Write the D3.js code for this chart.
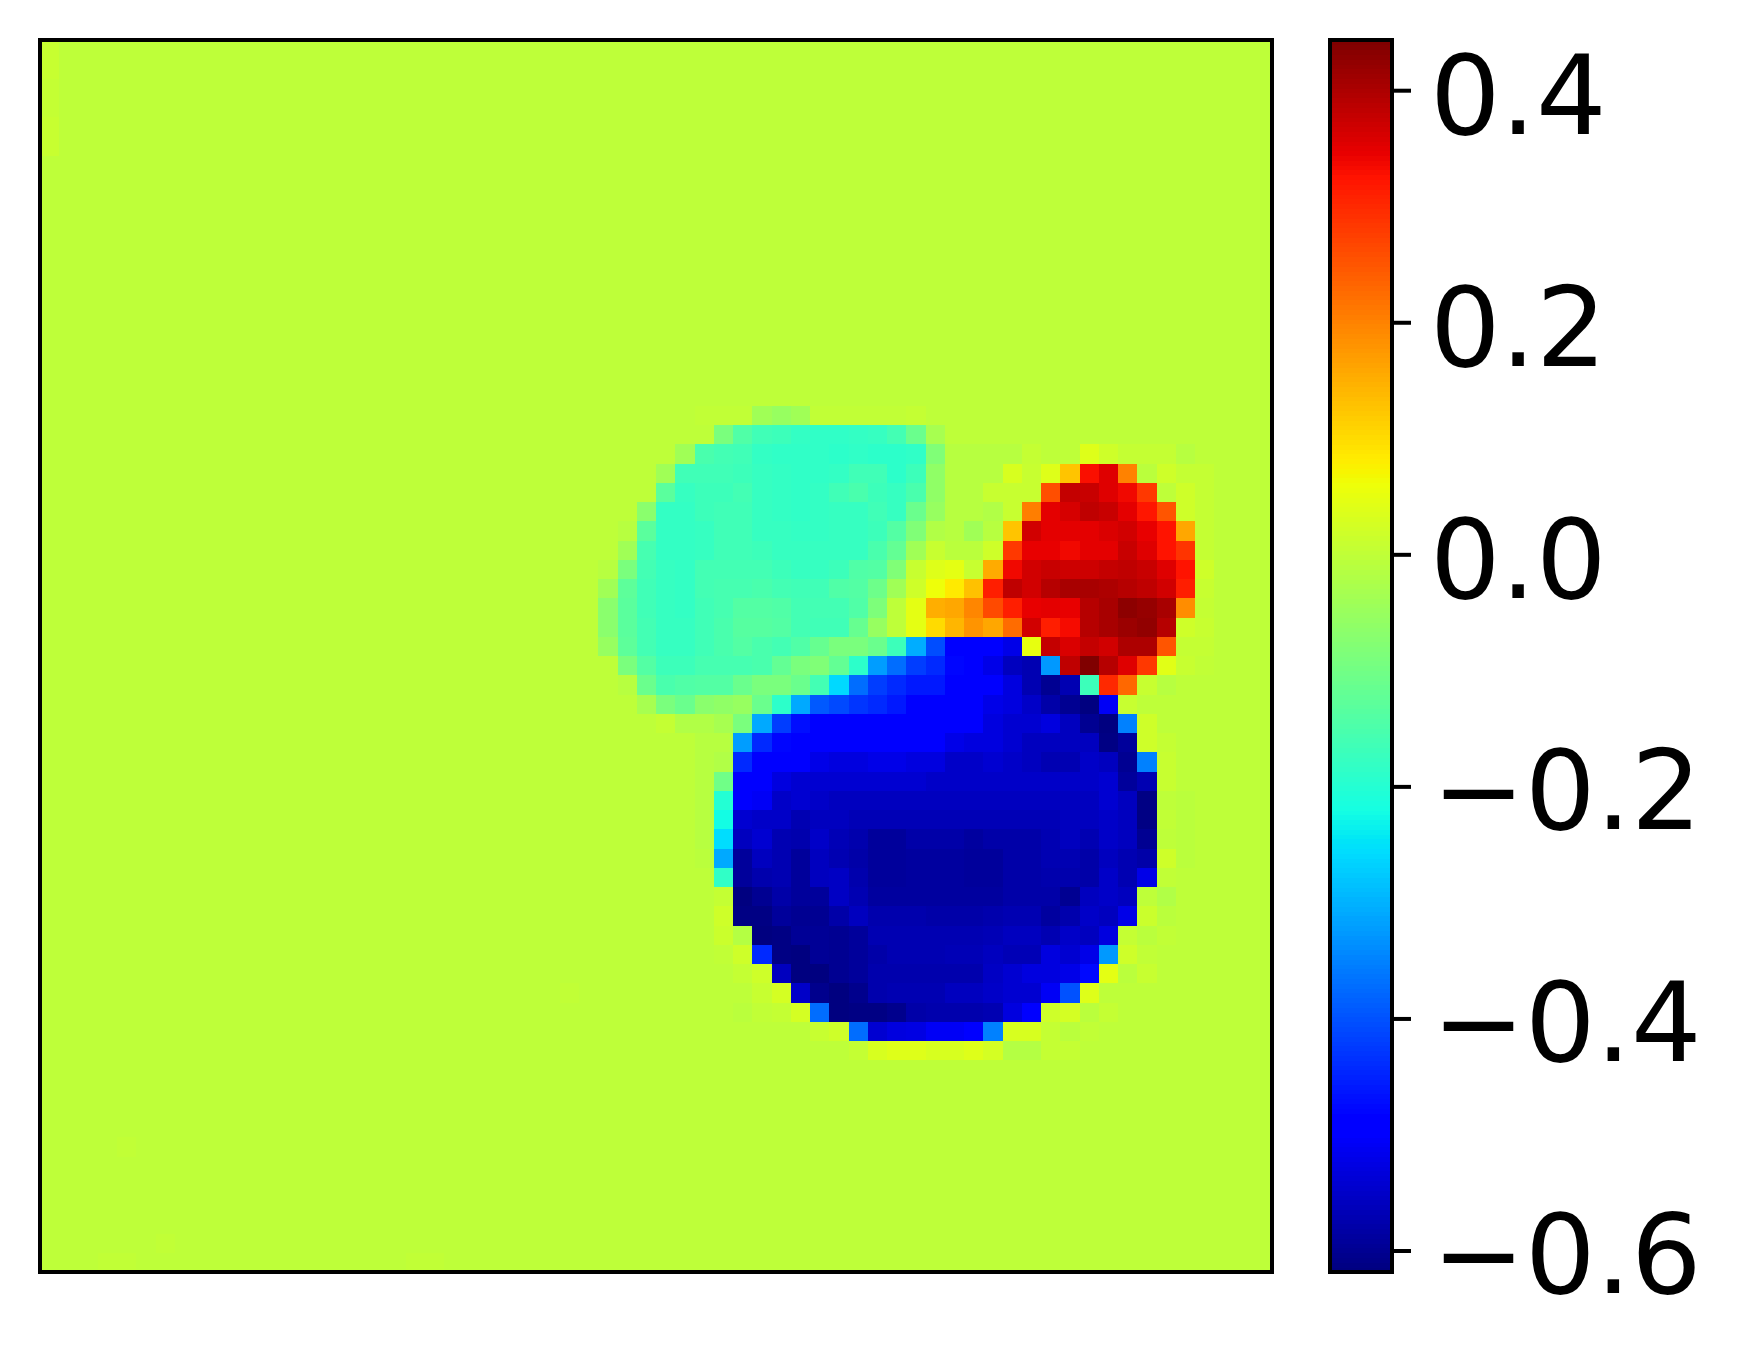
<!DOCTYPE html>
<html>
<head>
<meta charset="utf-8">
<script src="https://cdn.jsdelivr.net/npm/d3@7"></script>
<style>
body { margin: 0; background: #fff; }
</style>
</head>
<body>
<div id="chart"></div>
<script>
// field is 64x64, everything not listed below sits at the background value
var gridSize = 64;
var background = -0.004;
var barTicks = [0.4, 0.2, 0, -0.2, -0.4, -0.6];
var vmin = -0.6181, vmax = 0.4437;

// few slightly warmer background cells
var warmRows = [0, 1, 2, 3, 4, 5, 57, 49, 62, 63, 63, 63, 63];
var warmCols = [0, 0, 0, 0, 0, 0, 4, 27, 6, 3, 4, 19, 20];
var warmValues = [.012, .012, .008, .008, .012, .012, .002, .002, .002, .002, .002, .002, .002];

// first column of each listed row, rows start at firstRow
var firstRow = 19;
var firstCols = [34, 35, 33, 32, 31, 31, 30, 30, 29, 29, 29, 29, 29, 30, 30, 31, 32, 34, 34, 34, 34, 34, 34, 34, 34, 35, 35, 35, 35, 36, 37, 36, 40, 42];

var rowValues = [
  [0,0,0,-.04,-.05,-.04,0,0,0,0,0,.005],
  [-.09,-.145,-.165,-.17,-.18,-.185,-.185,-.18,-.175,-.16,-.11,-.03],
  [-.04,-.15,-.16,-.165,-.18,-.185,-.185,-.185,-.19,-.185,-.19,-.19,-.185,-.08,-.012,-.012,-.012,-.012,.005,-.004,-.004,.038,.02,.005,.005,.005,-.012],
  [-.04,-.165,-.165,-.165,-.17,-.175,-.18,-.185,-.185,-.18,-.165,-.165,-.19,-.17,-.06,-.012,-.012,-.012,.03,.012,.038,.125,.33,.355,.2,-.008,.02,.005,.005],
  [-.004,-.13,-.175,-.17,-.17,-.16,-.175,-.18,-.185,-.18,-.165,-.15,-.17,-.175,-.15,-.06,-.012,-.012,.012,.012,.012,.26,.378,.375,.355,.34,.285,-.004,.02,.005],
  [-.07,-.18,-.18,-.17,-.165,-.165,-.175,-.18,-.185,-.18,-.175,-.175,-.165,-.175,-.11,-.05,-.012,-.012,-.02,.012,.205,.35,.362,.385,.375,.35,.32,.25,.02,.005],
  [-.012,-.13,-.18,-.18,-.175,-.165,-.165,-.175,-.175,-.18,-.18,-.175,-.175,-.17,-.14,-.08,-.02,-.012,-.04,-.012,.125,.368,.35,.35,.352,.36,.365,.345,.325,.16,.005],
  [-.04,-.155,-.18,-.18,-.175,-.165,-.165,-.17,-.175,-.175,-.175,-.175,-.175,-.15,-.12,-.04,.012,-.008,-.008,.02,.285,.347,.347,.338,.35,.35,.375,.355,.325,.29,.005],
  [-.012,-.09,-.16,-.175,-.18,-.16,-.16,-.16,-.16,-.17,-.175,-.175,-.17,-.145,-.14,-.08,.012,.038,.047,.012,.155,.34,.368,.375,.37,.37,.38,.385,.375,.355,.325,.02],
  [-.04,-.125,-.165,-.175,-.18,-.16,-.155,-.155,-.15,-.16,-.165,-.165,-.145,-.14,-.105,-.04,.02,.06,.085,.13,.312,.385,.365,.393,.405,.405,.4,.39,.385,.365,.315,.012],
  [-.07,-.13,-.165,-.175,-.18,-.165,-.155,-.14,-.14,-.145,-.16,-.16,-.16,-.145,-.085,-.004,.047,.15,.16,.195,.265,.315,.345,.35,.345,.39,.405,.43,.42,.405,.19,.005],
  [-.07,-.13,-.16,-.175,-.175,-.165,-.15,-.135,-.135,-.14,-.16,-.165,-.165,-.115,-.05,-.004,.047,.1,.145,.18,.16,.225,.365,.315,.335,.39,.405,.415,.423,.39,.02,.012],
  [-.05,-.125,-.16,-.175,-.175,-.165,-.15,-.14,-.15,-.16,-.145,-.115,-.09,-.09,-.11,-.17,-.305,-.405,-.49,-.49,-.49,-.52,.052,.38,.36,.378,.365,.4,.402,.25,.005,.005],
  [-.09,-.14,-.17,-.17,-.155,-.155,-.155,-.15,-.12,-.09,-.08,-.12,-.19,-.32,-.37,-.42,-.44,-.48,-.5,-.52,-.56,-.57,-.325,.385,.443,.393,.355,.285,.042,.012,0],
  [-.012,-.11,-.15,-.145,-.14,-.14,-.11,-.09,-.09,-.11,-.16,-.26,-.37,-.42,-.44,-.46,-.46,-.49,-.49,-.5,-.53,-.57,-.6,-.57,-.17,.3,.23,.012,-.012],
  [-.03,-.09,-.11,-.07,-.06,-.05,-.11,-.19,-.31,-.39,-.41,-.43,-.44,-.46,-.49,-.49,-.49,-.5,-.52,-.53,-.55,-.58,-.6,-.615,-.51,.012],
  [.005,-.02,-.02,-.03,-.09,-.31,-.42,-.47,-.49,-.49,-.49,-.49,-.49,-.49,-.49,-.49,-.5,-.53,-.54,-.54,-.53,-.56,-.6,-.615,-.35,.02],
  [-.012,-.012,-.32,-.44,-.48,-.49,-.49,-.49,-.49,-.49,-.49,-.49,-.5,-.52,-.53,-.53,-.54,-.56,-.56,-.56,-.56,-.61,-.59,.02,.005],
  [-.012,-.02,-.44,-.49,-.49,-.5,-.52,-.53,-.53,-.52,-.52,-.53,-.53,-.55,-.55,-.54,-.55,-.56,-.57,-.57,-.55,-.56,-.6,-.35,.01],
  [-.012,-.1,-.49,-.5,-.53,-.54,-.54,-.54,-.54,-.54,-.54,-.54,-.55,-.55,-.55,-.55,-.55,-.55,-.55,-.55,-.55,-.54,-.59,-.57,.01],
  [-.012,-.2,-.5,-.51,-.55,-.54,-.55,-.56,-.56,-.56,-.56,-.56,-.56,-.56,-.56,-.56,-.56,-.56,-.56,-.56,-.56,-.54,-.56,-.61,-.004,-.008],
  [-.012,-.22,-.54,-.55,-.55,-.57,-.56,-.56,-.565,-.565,-.565,-.565,-.565,-.565,-.565,-.565,-.565,-.565,-.565,-.56,-.56,-.55,-.56,-.61,0,-.008],
  [-.012,-.255,-.56,-.54,-.57,-.575,-.55,-.565,-.575,-.59,-.59,-.58,-.58,-.58,-.585,-.58,-.58,-.58,-.57,-.56,-.57,-.55,-.56,-.6,-.004,-.008],
  [-.008,-.31,-.59,-.56,-.57,-.59,-.56,-.57,-.58,-.59,-.59,-.585,-.585,-.585,-.59,-.59,-.58,-.58,-.57,-.57,-.58,-.56,-.57,-.58,.02,-.008],
  [-.004,-.185,-.59,-.575,-.57,-.59,-.56,-.555,-.575,-.59,-.59,-.585,-.585,-.585,-.59,-.59,-.58,-.58,-.575,-.575,-.58,-.55,-.57,-.52,0],
  [.005,-.615,-.6,-.58,-.59,-.59,-.555,-.57,-.585,-.585,-.585,-.585,-.585,-.585,-.585,-.58,-.58,-.58,-.6,-.56,-.55,-.56,-.004,-.02],
  [.02,-.61,-.61,-.59,-.6,-.6,-.58,-.56,-.575,-.575,-.575,-.58,-.58,-.58,-.575,-.57,-.57,-.585,-.575,-.55,-.56,-.52,.015,-.008],
  [.015,-.015,-.618,-.61,-.595,-.595,-.6,-.59,-.57,-.57,-.57,-.57,-.57,-.57,-.565,-.56,-.56,-.57,-.55,-.56,-.53,.005,-.008,0],
  [.002,.02,-.44,-.61,-.615,-.595,-.6,-.59,-.58,-.57,-.57,-.57,-.565,-.565,-.56,-.565,-.565,-.53,-.54,-.52,-.325,.02,0],
  [.005,.02,-.56,-.615,-.615,-.6,-.59,-.575,-.575,-.575,-.575,-.575,-.575,-.555,-.54,-.53,-.53,-.52,-.475,.047,-.008,.012],
  [.012,.025,-.55,-.605,-.615,-.605,-.575,-.57,-.57,-.57,-.56,-.56,-.55,-.54,-.54,-.51,-.4,.038],
  [-.008,.002,.005,.025,-.37,-.615,-.61,-.61,-.605,-.58,-.575,-.575,-.575,-.57,-.53,-.49,.02,.025,-.008,.005],
  [.012,.02,-.37,-.54,-.53,-.525,-.51,-.51,-.5,-.35,.03,.03,.005,-.008,0],
  [.005,.03,.038,.038,.03,.03,.038,.025,-.015,-.015,.005,.005]
];

// spread the rows out into one list of cells
var cells = [];
for (var r = 0; r < gridSize; r++) {
  for (var c = 0; c < gridSize; c++) {
    var row = rowValues[r - firstRow];
    var v = background;
    if (row != null) {
      var k = c - firstCols[r - firstRow];
      if (k >= 0 && k < row.length) v = row[k];
    }
    cells.push({row: r, col: c, value: v});
  }
}
for (var w = 0; w < warmRows.length; w++) {
  cells[warmRows[w] * gridSize + warmCols[w]].value = warmValues[w];
}

// same breakpoints as the jet map, in 256 levels
var redCh = d3.scaleLinear().domain([0, .35, .66, .89, 1]).range([0, 0, 1, 1, .5]).clamp(true);
var greenCh = d3.scaleLinear().domain([0, .125, .375, .64, .91, 1]).range([0, 0, 1, 1, 0, 0]).clamp(true);
var blueCh = d3.scaleLinear().domain([0, .11, .34, .65, 1]).range([.5, 1, 1, 0, 0]).clamp(true);

function jet(t) {
  var level = Math.min(255, Math.max(0, Math.floor(t * 256))) / 255;
  return d3.rgb(redCh(level) * 255, greenCh(level) * 255, blueCh(level) * 255).formatHex();
}
var norm = d3.scaleLinear().domain([vmin, vmax]).range([0, 1]);

var svg = d3.select("#chart").append("svg")
  .attr("width", 1740)
  .attr("height", 1356)
  .style("display", "block");

var x = d3.scaleBand().domain(d3.range(gridSize)).range([40, 1272]);
var y = d3.scaleBand().domain(d3.range(gridSize)).range([40, 1272]);

svg.append("g").selectAll("rect")
  .data(cells)
  .enter()
  .append("rect")
  .attr("x", function(d) { return x(d.col); })
  .attr("y", function(d) { return y(d.row); })
  .attr("width", x.bandwidth())
  .attr("height", y.bandwidth())
  .attr("shape-rendering", "crispEdges")
  .style("fill", function(d) { return jet(norm(d.value)); });

svg.append("rect")
  .attr("x", 40).attr("y", 40)
  .attr("width", 1232).attr("height", 1232)
  .style("fill", "none")
  .style("stroke", "#000")
  .style("stroke-width", 4);

// colorbar
var barY = d3.scaleLinear().domain([vmin, vmax]).range([1272, 40]);
var levels = d3.range(256);
var levelY = d3.scaleBand().domain(levels).range([1272, 40]);

svg.append("g").selectAll("rect")
  .data(levels)
  .enter()
  .append("rect")
  .attr("x", 1330)
  .attr("y", function(d) { return levelY(d); })
  .attr("width", 62)
  .attr("height", levelY.bandwidth() + 0.5)
  .attr("shape-rendering", "crispEdges")
  .style("fill", function(d) { return jet((d + 0.5) / 256); });

svg.append("rect")
  .attr("x", 1330).attr("y", 40)
  .attr("width", 62).attr("height", 1232)
  .style("fill", "none")
  .style("stroke", "#000")
  .style("stroke-width", 4);

var barAxis = d3.axisRight(barY)
  .tickValues(barTicks)
  .tickSize(19)
  .tickPadding(19)
  .tickFormat(d3.format(".1f"))
  .offset(0);

var axisG = svg.append("g")
  .attr("transform", "translate(1392,0)")
  .call(barAxis);

axisG.select(".domain").remove();
axisG.selectAll("line").style("stroke", "#000").style("stroke-width", 4);
axisG.selectAll("text")
  .attr("dx", function(d) { return d < -0.1 ? 2 : 0; })
  .attr("dy", function(d) { return d < -0.1 ? "0.375em" : "0.39em"; })
  .style("font-family", "'DejaVu Sans'")
  .style("font-size", "111px")
  .style("fill", "#000");
</script>
</body>
</html>
